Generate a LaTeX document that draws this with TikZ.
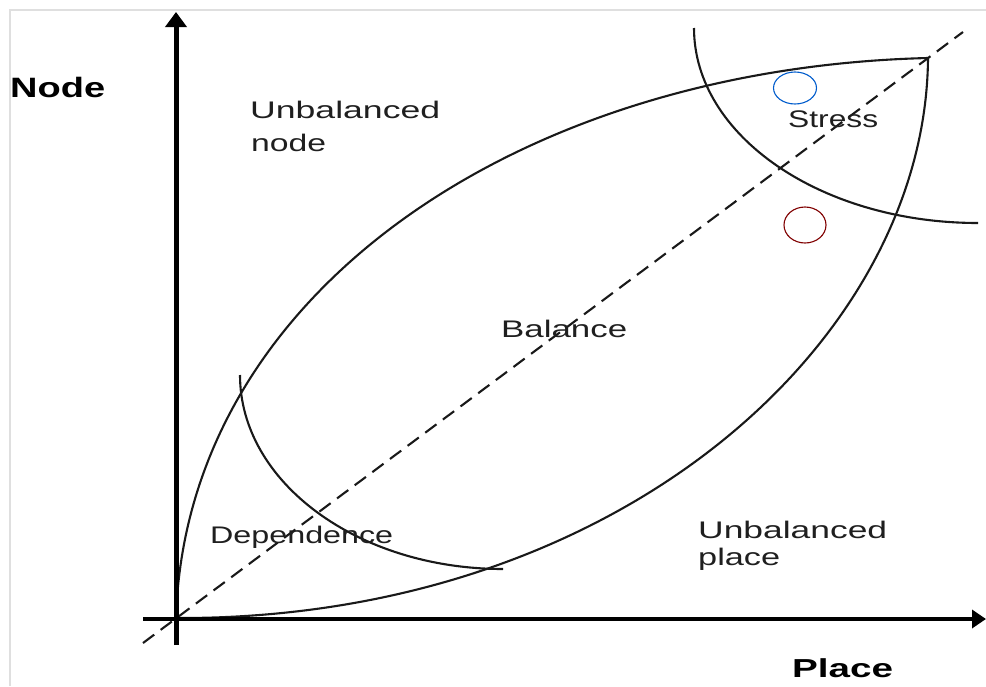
\documentclass[tikz,border=0pt]{standalone}
\usepackage{fontspec}
\usepackage{graphicx}
\setmainfont{Liberation Sans}
\usetikzlibrary{arrows.meta}
\newcommand{\sw}[2]{\resizebox{#1pt}{\height}{#2}}
\begin{document}
\begin{tikzpicture}[x=1pt,y=-1pt,
  curve/.style={line width=2.1pt,black!90},
  guide/.style={line width=2.1pt,dash pattern=on 14pt off 8pt,black!90},
  lbl/.style={inner sep=0pt,anchor=base west,font=\fontsize{24}{28}\selectfont,text=black!88},
  axlbl/.style={inner sep=0pt,anchor=base west,font=\fontsize{28}{32}\selectfont\bfseries}]
\useasboundingbox (0,0) rectangle (986,686);
% light frame
\draw[gray!25,line width=1.5pt] (10,686) -- (10,10) -- (986,10);
% coordinates
\coordinate (O) at (176,618);
\coordinate (T) at (928,58);
\coordinate (ybot) at (176,645);
\coordinate (ytop) at (176,12);
\coordinate (xleft) at (143,619);
\coordinate (xright) at (986,619);
\coordinate (dA) at (143,643);
\coordinate (dB) at (963,32);
\coordinate (depS) at (240,375);
\coordinate (strS) at (694,28);
\coordinate (blueC) at (795,88);
\coordinate (redC) at (805,225);
% leaf
\draw[curve] (O) .. controls (186,292) and (520,68) .. (T);
\draw[curve] (O) .. controls (620,620) and (926,340) .. (T);
% arcs
\draw[curve] (depS) arc[start angle=180,end angle=90,x radius=263,y radius=194];
\draw[curve] (strS) arc[start angle=180,end angle=90,x radius=284,y radius=195];
% small ellipses
\draw[blue!55!cyan!80!black,line width=1.1pt] (blueC) ellipse[x radius=21.5,y radius=16];
\draw[red!50!black,line width=1.1pt] (redC) ellipse[x radius=21,y radius=18];
% dashed diagonal
\draw[guide] (dA) -- (dB);
% axes
\draw[line width=5pt,-{Triangle[width=21pt,length=15pt]}] (ybot) -- (ytop);
\draw[line width=4pt,-{Triangle[width=18pt,length=14pt]}] (xleft) -- (xright);
% labels
\node[axlbl] (nodeL) at (10,97) {\sw{95}{Node}};
\node[axlbl,font=\fontsize{26}{30}\selectfont\bfseries] (placeL) at (792,677) {\sw{101}{Place}};
\node[lbl] (un1) at (250,118) {\sw{190}{Unbalanced}};
\node[lbl] (un2) at (251,151) {\sw{75}{node}};
\node[lbl] (stress) at (788,127) {\sw{90}{Stress}};
\node[lbl] (bal) at (501,337) {\sw{126}{Balance}};
\node[lbl] (up1) at (698,538) {\sw{189}{Unbalanced}};
\node[lbl] (up2) at (698,565) {\sw{82}{place}};
\node[lbl] (dep) at (210,543) {\sw{183}{Dependence}};
\end{tikzpicture}
\end{document}
